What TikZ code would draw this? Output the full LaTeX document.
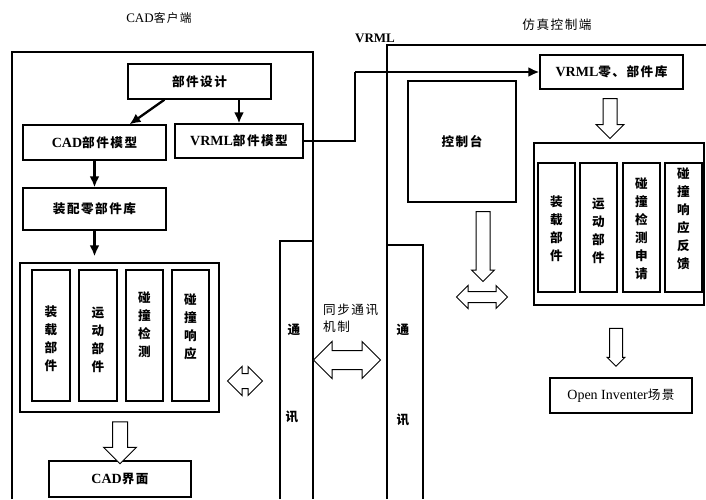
\documentclass[tikz,border=0pt]{standalone}
\usepackage{fontspec}
\setmainfont{Liberation Serif}
\newfontfamily\cjk[Scale=0.9,LetterSpace=12]{Noto Sans CJK SC}
\newcommand\zh[1]{{\cjk #1}}
\usetikzlibrary{shapes.arrows,arrows.meta,calc}
\tikzset{
  box/.style={draw, line width=1.3pt, inner sep=0pt, font=\bfseries\fontsize{14}{16}\selectfont},
  vbox/.style={draw, line width=1.3pt, inner sep=0pt},
  vtext/.style={anchor=north, align=center, inner sep=0pt, font=\bfseries\fontsize{14}{18}\selectfont},
  frame/.style={line width=1.2pt},
  flow/.style={line width=2.3pt, -{Latex[length=11pt,width=10pt]}},
  hollowdown/.style={draw, line width=1pt, fill=white, single arrow, shape border rotate=270},
  hollowdbl/.style={draw, line width=1pt, fill=white, double arrow},
  label/.style={inner sep=0pt, font=\fontsize{14}{16}\selectfont}
}
\begin{document}
\begin{tikzpicture}[x=1pt,y=-1pt]
\useasboundingbox (0,0) rectangle (706,499);
% titles
\node[label, font=\fontsize{13}{15}\selectfont] (t1) at (159,18) {CAD\zh{客户端}};
\node[label] (t2) at (557,25) {\zh{仿真控制端}};
\node[label, font=\bfseries\fontsize{13}{15}\selectfont] (t3) at (375,38) {VRML};
% frames
\draw[frame] (12,499) -- (12,52) -- (313,52) -- (313,499);
\draw[frame] (387,499) -- (387,45) -- (706,45);
\draw[frame] (280,499) -- (280,241) -- (313,241);
\draw[frame] (387,245) -- (423,245) -- (423,499);
% left side boxes
\node[box, minimum width=143pt, minimum height=35pt] (pd) at (199.5,81.5) {\zh{部件设计}};
\node[box, minimum width=143pt, minimum height=35pt] (cadm) at (94.5,142.5) {CAD\zh{部件模型}};
\node[box, minimum width=128pt, minimum height=34pt] (vrmlm) at (239,141) {VRML\zh{部件模型}};
\node[box, minimum width=143pt, minimum height=42pt] (lib) at (94.5,209) {\zh{装配零部件库}};
\node[vbox, minimum width=199pt, minimum height=149pt] (modL) at (119.5,337.5) {};
\node[vbox, minimum width=38pt, minimum height=131pt] (l1) at (51,335.5) {};
\node[vbox, minimum width=38pt, minimum height=131pt] (l2) at (98,335.5) {};
\node[vbox, minimum width=37pt, minimum height=131pt] (l3) at (144.5,335.5) {};
\node[vbox, minimum width=37pt, minimum height=131pt] (l4) at (190.5,335.5) {};
\node[vtext] (lt1) at (51,306) {\zh{装}\\\zh{载}\\\zh{部}\\\zh{件}};
\node[vtext] (lt2) at (98,307) {\zh{运}\\\zh{动}\\\zh{部}\\\zh{件}};
\node[vtext] (lt3) at (144.5,292) {\zh{碰}\\\zh{撞}\\\zh{检}\\\zh{测}};
\node[vtext] (lt4) at (190.5,294) {\zh{碰}\\\zh{撞}\\\zh{响}\\\zh{应}};
\node[box, minimum width=142pt, minimum height=36pt] (cadui) at (120,479) {CAD\zh{界面}};
% left arrows
\draw[flow] ($(pd.south)+(-35,0)$) -- ($(cadm.north)+(35,0)$);
\draw[flow] (pd.south -| vrmlm.north) -- (vrmlm.north);
\draw[flow] (cadm.south) -- (lib.north);
\draw[flow, shorten >=6pt] (lib.south) -- (lib.south |- modL.north);
\node[hollowdown, inner sep=7pt, minimum height=42pt, single arrow head extend=9pt] (dl) at (120,439) {};
\node[hollowdbl, inner sep=7pt, minimum height=35pt, double arrow head extend=7pt] (dbl1) at (245,381) {};
% communication strips
\node[label, font=\bfseries\fontsize{14}{16}\selectfont] (c1) at (294,330) {\zh{通}};
\node[label, font=\bfseries\fontsize{14}{16}\selectfont] (c2) at (292,417) {\zh{讯}};
\node[label, font=\bfseries\fontsize{14}{16}\selectfont] (c3) at (403,330) {\zh{通}};
\node[label, font=\bfseries\fontsize{14}{16}\selectfont] (c4) at (403,420) {\zh{讯}};
\node[label, anchor=north west, align=left, font=\fontsize{14}{17}\selectfont] (sync) at (323,304) {\zh{同步通讯}\\\zh{机制}};
\node[hollowdbl, inner sep=9pt, minimum height=67pt, double arrow head extend=9pt] (dbl2) at (347,360) {};
% right side
\node[box, minimum width=143pt, minimum height=34pt] (vrmllib) at (611.5,72) {VRML\zh{零、部件库}};
\node[box, minimum width=108pt, minimum height=121pt] (ctrl) at (462,141.5) {\zh{控制台}};
\coordinate (bend) at (355,72);
\draw[line width=2.3pt] (vrmlm.east) -| (bend);
\draw[flow] (bend) -- (vrmllib.west);
\node[hollowdown, inner sep=6.5pt, minimum height=40pt, single arrow head extend=7pt] (dr1) at (610,115) {};
\node[vbox, minimum width=170pt, minimum height=162pt] (modR) at (619,224) {};
\node[vbox, minimum width=37pt, minimum height=129pt] (r1) at (556.5,227.5) {};
\node[vbox, minimum width=37pt, minimum height=129pt] (r2) at (598.5,227.5) {};
\node[vbox, minimum width=37pt, minimum height=129pt] (r3) at (641.5,227.5) {};
\node[vbox, minimum width=37pt, minimum height=129pt] (r4) at (683.5,227.5) {};
\node[vtext] (rt1) at (556.5,196) {\zh{装}\\\zh{载}\\\zh{部}\\\zh{件}};
\node[vtext] (rt2) at (598.5,198) {\zh{运}\\\zh{动}\\\zh{部}\\\zh{件}};
\node[vtext] (rt3) at (641.5,178) {\zh{碰}\\\zh{撞}\\\zh{检}\\\zh{测}\\\zh{申}\\\zh{请}};
\node[vtext] (rt4) at (683.5,168) {\zh{碰}\\\zh{撞}\\\zh{响}\\\zh{应}\\\zh{反}\\\zh{馈}};
\node[hollowdown, inner sep=6.5pt, minimum height=70pt, single arrow head extend=4.5pt] (dr2) at (483,243) {};
\node[hollowdbl, inner sep=5pt, minimum height=51pt, double arrow head extend=6pt] (dbl3) at (482,297) {};
\node[hollowdown, inner sep=6pt, minimum height=38pt, single arrow head extend=2.5pt] (dr3) at (616,344) {};
\node[box, minimum width=142pt, minimum height=35pt, font=\fontsize{14}{16}\selectfont] (oi) at (621,395.5) {Open Inventer\zh{场景}};
\end{tikzpicture}
\end{document}
